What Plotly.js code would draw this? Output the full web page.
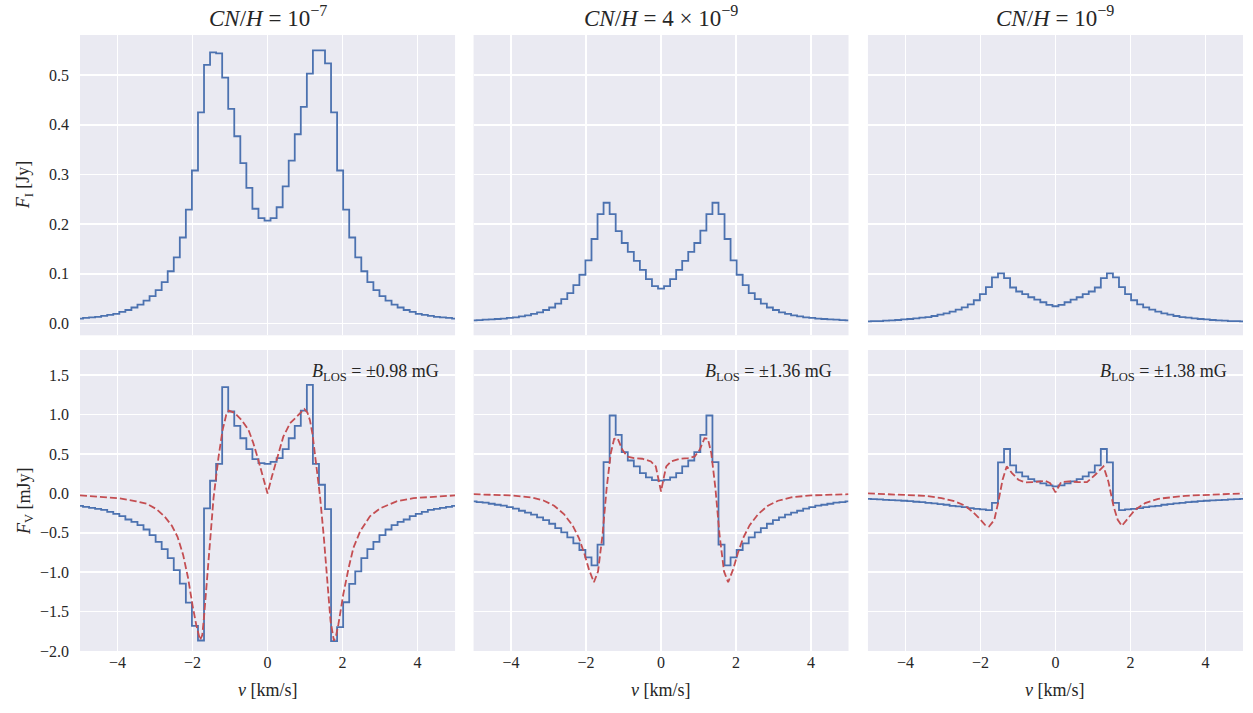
<!DOCTYPE html>
<html>
<head>
<meta charset="utf-8">
<script src="https://cdn.plot.ly/plotly-3.0.1.min.js"></script>
<style>html,body{margin:0;padding:0;background:#fff}</style>
</head>
<body>
<div id="chart" style="width:1253px;height:713px"></div>
<script>
// velocity channels [km/s]
const velocity = [-5.000,-4.839,-4.677,-4.516,-4.355,-4.194,-4.032,-3.871,-3.710,-3.548,-3.387,-3.226,-3.065,-2.903,-2.742,-2.581,-2.419,-2.258,-2.097,-1.935,-1.774,-1.613,-1.452,-1.290,-1.129,-0.968,-0.806,-0.645,-0.484,-0.323,-0.161,0,0.161,0.323,0.484,0.645,0.806,0.968,1.129,1.290,1.452,1.613,1.774,1.935,2.097,2.258,2.419,2.581,2.742,2.903,3.065,3.226,3.387,3.548,3.710,3.871,4.032,4.194,4.355,4.516,4.677,4.839,5.000];

// Stokes I flux [Jy]
const fluxI_1e7 = [0.0094,0.011,0.012,0.013,0.015,0.017,0.019,0.023,0.027,0.032,0.038,0.046,0.055,0.067,0.083,0.105,0.133,0.173,0.229,0.308,0.425,0.521,0.546,0.544,0.495,0.432,0.377,0.323,0.273,0.231,0.212,0.207,0.212,0.234,0.276,0.328,0.381,0.436,0.503,0.550,0.550,0.524,0.425,0.308,0.229,0.173,0.133,0.105,0.083,0.067,0.055,0.046,0.038,0.032,0.027,0.023,0.019,0.017,0.015,0.013,0.012,0.011,0.0094];
const fluxI_4e9 = [0.006,0.0067,0.0074,0.0081,0.0088,0.0094,0.011,0.012,0.014,0.016,0.019,0.022,0.027,0.032,0.040,0.049,0.061,0.077,0.098,0.127,0.170,0.220,0.243,0.220,0.186,0.162,0.144,0.126,0.108,0.089,0.075,0.070,0.075,0.089,0.108,0.126,0.144,0.162,0.187,0.220,0.243,0.220,0.170,0.127,0.098,0.077,0.061,0.049,0.040,0.032,0.027,0.022,0.019,0.016,0.014,0.012,0.011,0.0094,0.0088,0.0081,0.0074,0.0067,0.006];
const fluxI_1e9 = [0.0041,0.0044,0.0047,0.0054,0.0061,0.0068,0.0081,0.0088,0.0101,0.0115,0.0128,0.0149,0.0176,0.0203,0.0236,0.0277,0.0324,0.0385,0.0466,0.0588,0.0730,0.0926,0.1007,0.0912,0.0723,0.0642,0.0588,0.0527,0.0480,0.0426,0.0372,0.0345,0.0372,0.0426,0.0480,0.0527,0.0588,0.0642,0.0723,0.0912,0.1007,0.0926,0.0730,0.0588,0.0466,0.0385,0.0324,0.0277,0.0236,0.0203,0.0176,0.0149,0.0128,0.0115,0.0101,0.0088,0.0081,0.0068,0.0061,0.0054,0.0047,0.0044,0.0041];

// Stokes V flux [mJy]
const fluxV_1e7 = [-0.158,-0.171,-0.184,-0.196,-0.209,-0.234,-0.259,-0.289,-0.331,-0.361,-0.403,-0.458,-0.530,-0.614,-0.707,-0.821,-0.973,-1.146,-1.386,-1.681,-1.867,-0.19,0.161,0.376,1.348,1.040,0.858,0.700,0.562,0.435,0.385,0.376,0.400,0.448,0.562,0.700,0.858,1.052,1.378,0.376,0.110,-0.20,-1.875,-1.698,-1.381,-1.149,-0.99,-0.821,-0.707,-0.614,-0.530,-0.458,-0.403,-0.361,-0.331,-0.289,-0.259,-0.234,-0.209,-0.196,-0.184,-0.171,-0.158];
const fluxV_4e9 = [-0.101,-0.110,-0.118,-0.131,-0.144,-0.156,-0.173,-0.194,-0.220,-0.245,-0.270,-0.304,-0.338,-0.385,-0.440,-0.495,-0.558,-0.634,-0.718,-0.811,-0.913,-0.651,0.397,0.989,0.744,0.524,0.418,0.342,0.258,0.203,0.168,0.162,0.172,0.203,0.258,0.342,0.418,0.524,0.744,0.989,0.397,-0.651,-0.913,-0.811,-0.718,-0.634,-0.558,-0.495,-0.440,-0.385,-0.338,-0.304,-0.270,-0.245,-0.220,-0.194,-0.173,-0.156,-0.144,-0.131,-0.118,-0.110,-0.101];
const fluxV_1e9 = [-0.068,-0.072,-0.076,-0.081,-0.085,-0.089,-0.093,-0.097,-0.106,-0.110,-0.119,-0.127,-0.136,-0.144,-0.157,-0.165,-0.174,-0.186,-0.195,-0.203,-0.212,-0.119,0.394,0.564,0.356,0.267,0.216,0.182,0.153,0.127,0.102,0.089,0.102,0.127,0.153,0.182,0.216,0.267,0.356,0.564,0.394,-0.119,-0.212,-0.203,-0.195,-0.186,-0.174,-0.165,-0.157,-0.144,-0.136,-0.127,-0.119,-0.110,-0.106,-0.097,-0.093,-0.089,-0.085,-0.081,-0.076,-0.072,-0.068];

// Zeeman model curves (red dashed) [mJy]
const modelVel_1e7 = [-5,-4.5,-4,-3.5,-3.22,-2.96,-2.75,-2.55,-2.4,-2.25,-2.12,-2.0,-1.9,-1.8,-1.74,-1.69,-1.59,-1.5,-1.44,-1.31,-1.2,-1.1,-1.03,-0.87,-0.69,-0.51,-0.38,-0.25,-0.12,0,0.12,0.25,0.42,0.6,0.78,0.98,1.06,1.13,1.2,1.27,1.4,1.5,1.6,1.68,1.77,1.83,1.89,2.02,2.16,2.29,2.47,2.73,3.0,3.44,3.89,4.5,5];
const modelV_1e7 = [-0.025,-0.04,-0.059,-0.10,-0.13,-0.20,-0.29,-0.41,-0.55,-0.78,-1.07,-1.42,-1.67,-1.86,-1.80,-1.55,-0.95,-0.40,-0.06,0.45,0.80,1.0,1.05,1.02,0.93,0.81,0.64,0.43,0.22,0.0,0.22,0.45,0.72,0.89,0.98,1.07,1.03,0.93,0.75,0.47,-0.04,-0.55,-1.2,-1.62,-1.87,-1.80,-1.66,-1.28,-0.95,-0.69,-0.48,-0.29,-0.19,-0.10,-0.06,-0.04,-0.025];
const modelVel_4e9 = [-5,-4.5,-4,-3.47,-3.12,-2.85,-2.59,-2.36,-2.19,-2.05,-1.92,-1.79,-1.68,-1.56,-1.45,-1.34,-1.25,-1.16,-1.03,-0.9,-0.72,-0.5,-0.27,-0.14,-0.08,0,0.08,0.14,0.27,0.5,0.72,0.9,1.03,1.16,1.25,1.34,1.45,1.56,1.68,1.79,1.92,2.05,2.19,2.36,2.59,2.85,3.12,3.47,4,4.5,5];
const modelV_4e9 = [-0.01,-0.017,-0.025,-0.05,-0.093,-0.156,-0.262,-0.406,-0.566,-0.757,-0.968,-1.128,-0.99,-0.524,0.068,0.511,0.693,0.70,0.554,0.469,0.448,0.44,0.406,0.342,0.216,0.025,0.216,0.342,0.406,0.44,0.448,0.469,0.554,0.70,0.693,0.511,0.068,-0.524,-0.99,-1.128,-0.968,-0.757,-0.566,-0.406,-0.262,-0.156,-0.093,-0.05,-0.025,-0.017,-0.01];
const modelVel_1e9 = [-5,-4,-3.49,-3.04,-2.69,-2.42,-2.2,-2.02,-1.88,-1.77,-1.63,-1.52,-1.41,-1.30,-1.16,-0.99,-0.81,-0.54,-0.27,-0.14,0,0.15,0.35,0.61,0.84,1.06,1.28,1.41,1.55,1.66,1.77,1.9,2.12,2.39,2.74,3.46,4.35,5];
const modelV_1e9 = [0.0,-0.017,-0.03,-0.059,-0.10,-0.153,-0.237,-0.322,-0.398,-0.42,-0.335,-0.10,0.174,0.343,0.258,0.174,0.14,0.144,0.161,0.131,0.013,0.144,0.153,0.144,0.144,0.237,0.343,0.153,-0.165,-0.335,-0.411,-0.335,-0.208,-0.123,-0.068,-0.03,-0.008,0.0];

const panelTitles = ['<i>CN</i>/<i>H</i> = 10<sup>−7</sup>', '<i>CN</i>/<i>H</i> = 4 × 10<sup>−9</sup>', '<i>CN</i>/<i>H</i> = 10<sup>−9</sup>'];
const fieldLabels = ['±0.98 mG', '±1.36 mG', '±1.38 mG'];
const xTicks = [-4, -2, 0, 2, 4];
const yTicksI = [0, 0.1, 0.2, 0.3, 0.4, 0.5];
const yTicksV = [-2, -1.5, -1, -0.5, 0, 0.5, 1, 1.5];

const BLUE = '#4C72B0', RED = '#C44E52', TXT = '#262626';
const FONT = 'Liberation Serif';

const fluxI = [fluxI_1e7, fluxI_4e9, fluxI_1e9];
const fluxV = [fluxV_1e7, fluxV_4e9, fluxV_1e9];
const modelVel = [modelVel_1e7, modelVel_4e9, modelVel_1e9];
const modelV = [modelV_1e7, modelV_4e9, modelV_1e9];

const traces = [];
for (let i = 0; i < 3; i++) {
  const top = i + 1, bot = i + 4;
  traces.push({x: velocity, y: fluxI[i], type: 'scatter', mode: 'lines',
    line: {shape: 'hvh', color: BLUE, width: 1.8},
    xaxis: 'x' + (top === 1 ? '' : top), yaxis: 'y' + (top === 1 ? '' : top), hoverinfo: 'skip'});
  traces.push({x: velocity, y: fluxV[i], type: 'scatter', mode: 'lines',
    line: {shape: 'hvh', color: BLUE, width: 1.8},
    xaxis: 'x' + bot, yaxis: 'y' + bot, hoverinfo: 'skip'});
  traces.push({x: modelVel[i], y: modelV[i], type: 'scatter', mode: 'lines',
    line: {color: RED, width: 1.8, dash: '7px,3px'},
    xaxis: 'x' + bot, yaxis: 'y' + bot, hoverinfo: 'skip'});
}

const xDomains = [[0, 0.3225], [0.3384, 0.6608], [0.6775, 1]];
const yTopDomain = [0.5125, 1], yBotDomain = [0, 0.4886];
const tickFont = {family: FONT, size: 16, color: TXT};

function xAxis(i, bottom, anchor) {
  return {domain: xDomains[i], range: [-5, 5], anchor: anchor, tickvals: xTicks,
    showticklabels: bottom, showgrid: true, gridcolor: '#ffffff', gridwidth: 1.5,
    zeroline: false, showline: false, ticks: '', tickfont: tickFont};
}
function yAxis(domain, range, tickvals, labels, anchor) {
  return {domain: domain, range: range, anchor: anchor, tickvals: tickvals, tickformat: '.1f',
    showticklabels: labels, showgrid: true, gridcolor: '#ffffff', gridwidth: 1.5,
    zeroline: false, showline: false, ticks: '', tickfont: tickFont, ticklabelstandoff: 10};
}

const layout = {
  width: 1253, height: 713,
  margin: {l: 80, r: 10, t: 35, b: 62},
  paper_bgcolor: '#ffffff', plot_bgcolor: '#EAEAF2',
  showlegend: false,
  font: {family: FONT, size: 16, color: TXT},
  xaxis: xAxis(0, false, 'y'), yaxis: yAxis(yTopDomain, [-0.024, 0.581], yTicksI, true, 'x'),
  xaxis2: xAxis(1, false, 'y2'), yaxis2: yAxis(yTopDomain, [-0.024, 0.581], yTicksI, false, 'x2'),
  xaxis3: xAxis(2, false, 'y3'), yaxis3: yAxis(yTopDomain, [-0.024, 0.581], yTicksI, false, 'x3'),
  xaxis4: xAxis(0, true, 'y4'), yaxis4: yAxis(yBotDomain, [-2, 1.82], yTicksV, true, 'x4'),
  xaxis5: xAxis(1, true, 'y5'), yaxis5: yAxis(yBotDomain, [-2, 1.82], yTicksV, false, 'x5'),
  xaxis6: xAxis(2, true, 'y6'), yaxis6: yAxis(yBotDomain, [-2, 1.82], yTicksV, false, 'x6'),
  annotations: []
};

for (let i = 0; i < 3; i++) {
  const cx = (xDomains[i][0] + xDomains[i][1]) / 2;
  layout.annotations.push({text: panelTitles[i], xref: 'paper', yref: 'paper', x: cx, y: 1.03,
    xanchor: 'center', yanchor: 'middle', showarrow: false, font: {family: FONT, size: 23, color: TXT}});
  layout.annotations.push({text: '<i>v</i> [km/s]', xref: 'paper', yref: 'paper', x: cx, y: -0.063,
    xanchor: 'center', yanchor: 'middle', showarrow: false, font: {family: FONT, size: 18, color: TXT}});
  layout.annotations.push({text: '<i>B</i><sub>LOS</sub> = ' + fieldLabels[i],
    xref: 'x' + (i + 4) + ' domain', yref: 'y' + (i + 4) + ' domain', x: 0.962, y: 0.924,
    xanchor: 'right', yanchor: 'middle', showarrow: false, font: {family: FONT, size: 18, color: TXT}});
}
layout.annotations.push({text: '<i>F</i><sub>I</sub> [Jy]', xref: 'paper', yref: 'paper', x: -0.047, y: 0.7565,
  xanchor: 'center', yanchor: 'middle', textangle: -90, showarrow: false, font: {family: FONT, size: 18, color: TXT}});
layout.annotations.push({text: '<i>F</i><sub>V</sub> [mJy]', xref: 'paper', yref: 'paper', x: -0.047, y: 0.244,
  xanchor: 'center', yanchor: 'middle', textangle: -90, showarrow: false, font: {family: FONT, size: 18, color: TXT}});

Plotly.newPlot('chart', traces, layout, {displayModeBar: false, staticPlot: true});
</script>
</body>
</html>
